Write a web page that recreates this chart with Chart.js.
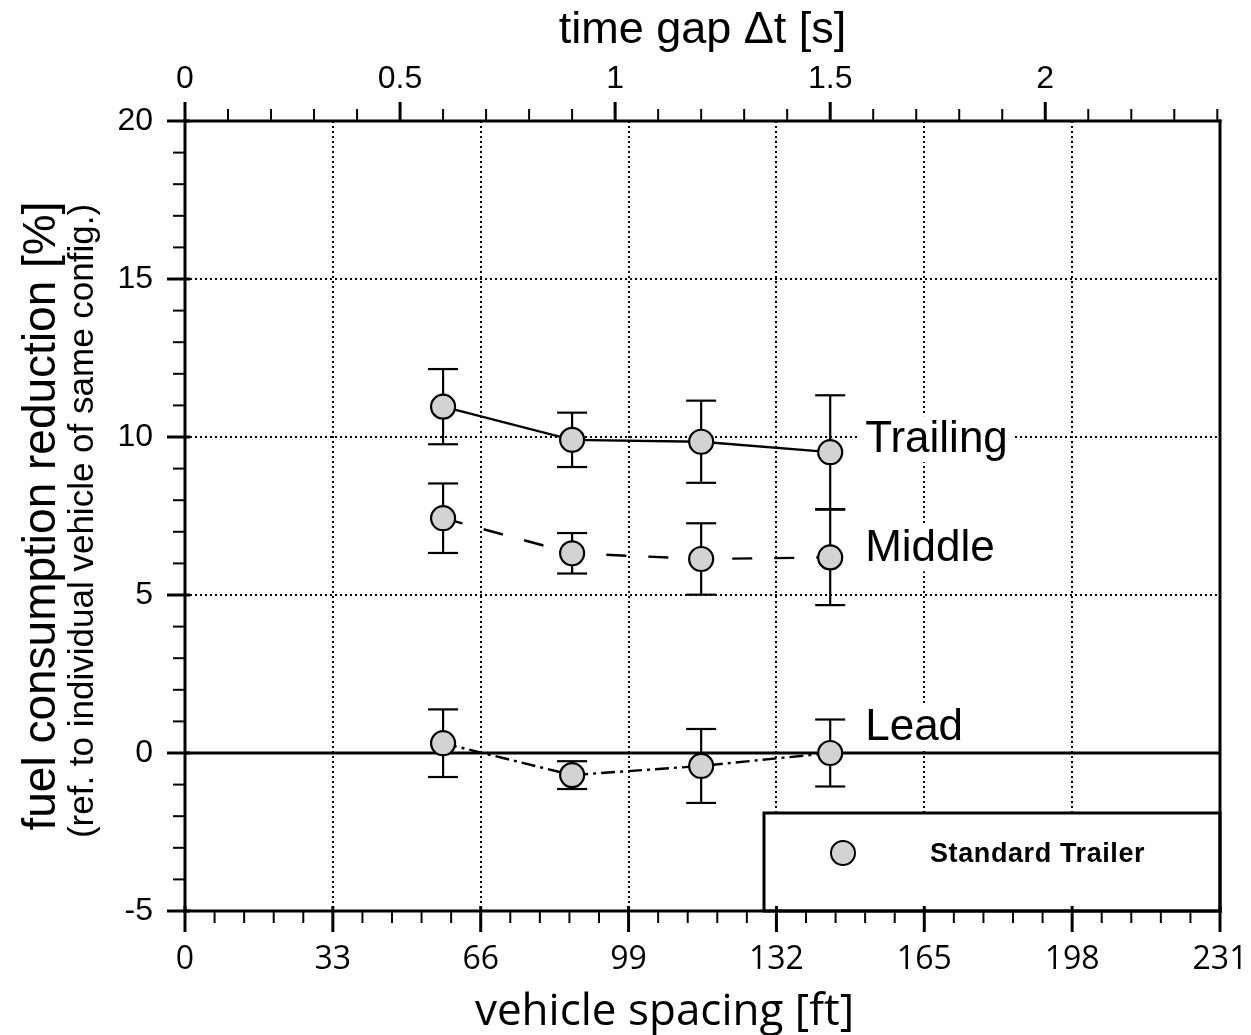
<!DOCTYPE html>
<html>
<head>
<meta charset="utf-8">
<title>fuel consumption reduction vs vehicle spacing</title>
<script src="https://cdn.jsdelivr.net/npm/chart.js@4.4.1/dist/chart.umd.min.js"></script>
<style>
html, body { margin: 0; padding: 0; background: #fff; }
#wrap { width: 1251px; height: 1035px; }
</style>
</head>
<body>
<div id="wrap"><canvas id="chart" width="1251" height="1035"></canvas></div>
<script>
// test points: vehicle spacing [ft] (time gap 0.6 / 0.9 / 1.2 / 1.5 s)
var spacingFt = [57.6, 86.4, 115.2, 144];

// fuel consumption reduction [%] and error bar half length
var trailingVal = [10.96, 9.91, 9.85, 9.52];
var trailingErr = [1.19, 0.86, 1.30, 1.80];
var middleVal = [7.43, 6.32, 6.14, 6.19];
var middleErr = [1.10, 0.64, 1.13, 1.51];
var leadVal = [0.31, -0.70, -0.41, 0.00];
var leadErr = [1.07, 0.44, 1.17, 1.06];

var seriesNames = ["Trailing", "Middle", "Lead"];
var legendText = "Standard Trailer";

var spacingTicks = [0, 33, 66, 99, 132, 165, 198, 231];
var timeTicks = [0, 0.5, 1, 1.5, 2];
var reductionTicks = [-5, 0, 5, 10, 15, 20];

var FT_PER_S = 96; // 1 s time gap = 96 ft

var ARIAL = '"Liberation Sans", Arial, Helvetica, sans-serif';
var OPEN = '"Open Sans", "Noto Sans", sans-serif';
var INK = "#000";
var MARKER_FILL = "#d3d3d3";

function pts(xs, ys) {
	return xs.map(function(x, i) { return { x: x, y: ys[i] }; });
}

function seg(ctx, x1, y1, x2, y2) {
	ctx.beginPath();
	ctx.moveTo(x1, y1);
	ctx.lineTo(x2, y2);
	ctx.stroke();
}

function fixTicks(list) {
	return function(s) {
		s.ticks = list.map(function(v) { return { value: v }; });
	};
}

// fixed box size, no extra label padding from the layout
function fitTo(w, h) {
	return function(s) {
		if (w !== null) s.width = w;
		if (h !== null) s.height = h;
		s.paddingLeft = s.paddingRight = s.paddingTop = s.paddingBottom = 0;
	};
}

// label baseline offset from the last point of each series
var labelDy = [0, 4, -13];

var decor = {
	id: "decor",
	beforeDatasetsDraw: function(chart) {
		var ctx = chart.ctx, a = chart.chartArea;
		var xs = chart.scales.x, ys = chart.scales.y;
		ctx.save();

		// dotted grid
		ctx.strokeStyle = INK;
		ctx.lineWidth = 2;
		ctx.setLineDash([2, 3]);
		spacingTicks.forEach(function(v) {
			if (v <= xs.min || v >= xs.max) return;
			var px = Math.round(xs.getPixelForValue(v));
			seg(ctx, px, a.top, px, a.bottom);
		});
		reductionTicks.forEach(function(v) {
			if (v <= ys.min || v >= ys.max || v === 0) return;
			var py = Math.round(ys.getPixelForValue(v));
			seg(ctx, a.left, py, a.right, py);
		});
		ctx.setLineDash([]);

		// solid zero line
		ctx.lineWidth = 3;
		var y0 = ys.getPixelForValue(0);
		seg(ctx, a.left, y0, a.right, y0);

		// series names on white
		ctx.font = "44px " + ARIAL;
		ctx.textAlign = "left";
		ctx.textBaseline = "alphabetic";
		chart.data.datasets.forEach(function(ds, i) {
			var meta = chart.getDatasetMeta(i);
			var last = meta.data[meta.data.length - 1];
			var tx = last.x + 35, ty = last.y + labelDy[i];
			var w = ctx.measureText(ds.label).width;
			ctx.fillStyle = "#fff";
			ctx.fillRect(tx - 6, ty - 36, w + 12, 46);
			ctx.fillStyle = INK;
			ctx.fillText(ds.label, tx, ty);
		});

		// error bars
		ctx.lineWidth = 2.2;
		ctx.strokeStyle = INK;
		chart.data.datasets.forEach(function(ds, i) {
			var meta = chart.getDatasetMeta(i);
			ds.err.forEach(function(e, j) {
				var px = meta.data[j].x;
				var v = ds.data[j].y;
				var hi = ys.getPixelForValue(v + e), lo = ys.getPixelForValue(v - e);
				seg(ctx, px, hi, px, lo);
				seg(ctx, px - 15, hi, px + 15, hi);
				seg(ctx, px - 15, lo, px + 15, lo);
			});
		});
		ctx.restore();
	},
	afterDatasetsDraw: function(chart) {
		var ctx = chart.ctx, a = chart.chartArea;
		var xs = chart.scales.x, ys = chart.scales.y, xt = chart.scales.xTime;
		ctx.save();

		// legend box
		var bx = a.right - 456, by = a.bottom - 98;
		ctx.fillStyle = "#fff";
		ctx.fillRect(bx, by, a.right - bx, a.bottom - by);
		ctx.strokeStyle = INK;
		ctx.lineWidth = 3;
		ctx.strokeRect(bx, by, a.right - bx, a.bottom - by);
		ctx.beginPath();
		ctx.arc(a.right - 377, a.bottom - 58, 12, 0, Math.PI * 2);
		ctx.fillStyle = MARKER_FILL;
		ctx.fill();
		ctx.lineWidth = 2;
		ctx.stroke();
		ctx.fillStyle = INK;
		ctx.font = "bold 27px " + ARIAL;
		ctx.letterSpacing = "0.6px";
		ctx.textAlign = "left";
		ctx.textBaseline = "alphabetic";
		ctx.fillText(legendText, a.right - 290, a.bottom - 49);
		ctx.letterSpacing = "0px";

		// frame
		ctx.lineWidth = 3;
		ctx.lineCap = "square";
		seg(ctx, a.left, a.top, a.right, a.top);
		seg(ctx, a.left, a.bottom, a.right, a.bottom);
		seg(ctx, a.left, a.top, a.left, a.bottom);
		seg(ctx, a.right, a.top, a.right, a.bottom);
		ctx.lineCap = "butt";

		// bottom ticks: majors every 33 ft, minors every 6.6 ft
		var v, p;
		for (v = 0; v <= xs.max + 0.01; v += 6.6) {
			p = xs.getPixelForValue(v);
			var major = Math.abs(v / 33 - Math.round(v / 33)) < 0.01;
			ctx.lineWidth = major ? 3 : 2;
			if (major) seg(ctx, p, a.bottom - 5, p, a.bottom + 21);
			else seg(ctx, p, a.bottom, p, a.bottom + 12);
		}
		// left ticks: majors every 5, minors every 1
		for (v = ys.min; v <= ys.max; v += 1) {
			p = ys.getPixelForValue(v);
			if (v % 5 === 0) { ctx.lineWidth = 3; seg(ctx, a.left - 18, p, a.left + 5, p); }
			else { ctx.lineWidth = 2; seg(ctx, a.left - 12, p, a.left, p); }
		}
		// top ticks: majors every 0.5 s, minors every 0.1 s
		for (var k = 0; k / 10 <= xt.max; k++) {
			p = xt.getPixelForValue(k / 10);
			if (k % 5 === 0) { ctx.lineWidth = 3; seg(ctx, p, a.top - 19, p, a.top); }
			else { ctx.lineWidth = 2; seg(ctx, p, a.top - 12, p, a.top); }
		}
		ctx.restore();
	},
	afterDraw: function(chart) {
		var ctx = chart.ctx, a = chart.chartArea;
		var cx = (a.left + a.right) / 2, cy = (a.top + a.bottom) / 2;
		ctx.save();
		ctx.fillStyle = INK;
		ctx.textAlign = "center";
		ctx.textBaseline = "alphabetic";

		ctx.font = "45px " + ARIAL;
		ctx.fillText("time gap \u0394t [s]", cx, a.top - 78);

		ctx.font = "44px " + OPEN;
		ctx.fillText("vehicle spacing [ft]", cx - 38, a.bottom + 114);

		ctx.translate(a.left - 130, cy);
		ctx.rotate(-Math.PI / 2);
		ctx.font = "46px " + ARIAL;
		ctx.fillText("fuel consumption reduction [%]", 0, 0);
		ctx.font = "35px " + ARIAL;
		ctx.fillText("(ref. to individual vehicle of same config.)", -5, 38);
		ctx.restore();
	}
};

function lineSet(name, vals, errs, dash) {
	return {
		label: name,
		data: pts(spacingFt, vals),
		err: errs,
		showLine: true,
		fill: false,
		tension: 0,
		borderColor: INK,
		borderWidth: 2.4,
		borderDash: dash,
		pointRadius: 12,
		pointHoverRadius: 12,
		pointBorderWidth: 2.2,
		pointBorderColor: INK,
		pointBackgroundColor: MARKER_FILL
	};
}

function draw() {
	new Chart(document.getElementById("chart"), {
		type: "scatter",
		data: {
			datasets: [
				lineSet(seriesNames[0], trailingVal, trailingErr, []),
				lineSet(seriesNames[1], middleVal, middleErr, [20, 22]),
				lineSet(seriesNames[2], leadVal, leadErr, [14, 5, 3, 5])
			]
		},
		options: {
			responsive: false,
			animation: false,
			layout: { padding: { left: 0, right: 31, top: 0, bottom: 0 } },
			plugins: { legend: { display: false }, tooltip: { enabled: false } },
			scales: {
				x: {
					type: "linear", position: "bottom", min: 0, max: 231,
					afterBuildTicks: fixTicks(spacingTicks),
					afterFit: fitTo(null, 124),
					grid: { display: false }, border: { display: false },
					ticks: {
						font: { family: OPEN, size: 32 }, color: INK, padding: 22,
						maxRotation: 0, autoSkip: false,
						callback: function(v) { return String(v); }
					}
				},
				xTime: {
					type: "linear", position: "top", min: 0, max: 231 / FT_PER_S,
					afterBuildTicks: fixTicks(timeTicks),
					afterFit: fitTo(null, 121),
					grid: { display: false }, border: { display: false },
					ticks: {
						font: { family: ARIAL, size: 32 }, color: INK, padding: 15,
						maxRotation: 0, autoSkip: false,
						callback: function(v) { return String(v); }
					}
				},
				y: {
					type: "linear", position: "left", min: -5, max: 20,
					afterBuildTicks: fixTicks(reductionTicks),
					afterFit: fitTo(185, null),
					grid: { display: false }, border: { display: false },
					ticks: {
						font: { family: ARIAL, size: 32 }, color: INK, padding: 24,
						callback: function(v) { return String(v); }
					}
				}
			}
		},
		plugins: [decor]
	});
}

Promise.all([
	document.fonts.load('32px "Open Sans"'),
	document.fonts.load('32px "Liberation Sans"'),
	document.fonts.load('bold 24px "Liberation Sans"')
]).then(draw, draw);
</script>
</body>
</html>
